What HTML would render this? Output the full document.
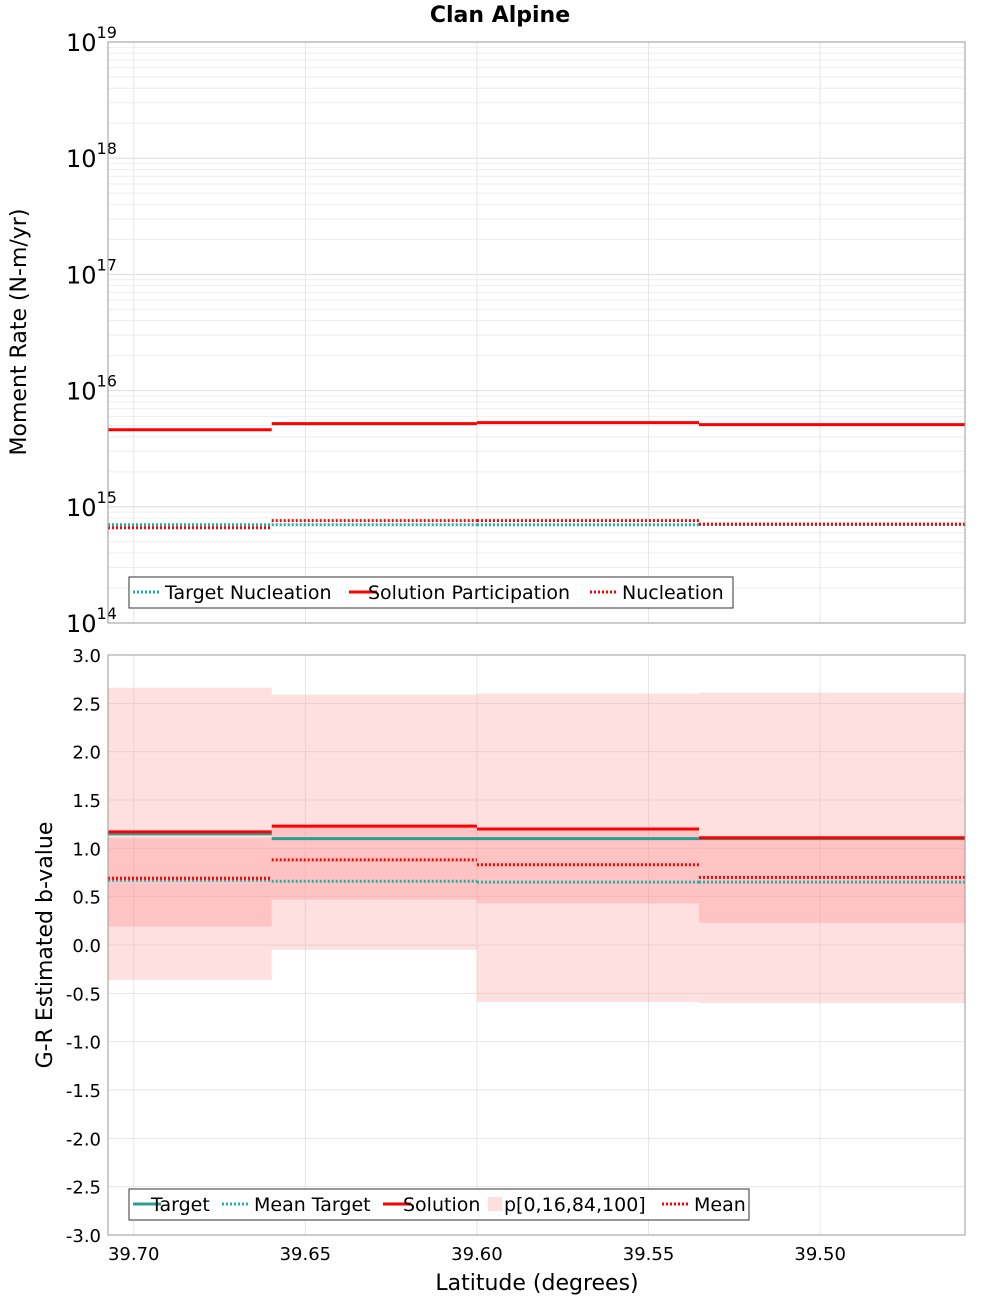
<!DOCTYPE html>
<html><head><meta charset="utf-8"><style>
body{margin:0;background:#fff;font-family:"DejaVu Sans","Liberation Sans",sans-serif}
</style></head><body>
<svg id="c" width="1000" height="1300" xmlns="http://www.w3.org/2000/svg" font-family="DejaVu Sans, Liberation Sans, sans-serif">
<text x="500" y="22" text-anchor="middle" font-size="22" font-weight="bold">Clan Alpine</text>
<g id="topplot"></g><g id="botplot"></g>
</svg>
<script>
const edges=[39.7075,39.6598,39.600,39.5353,39.4578];
const xTicks=[39.70,39.65,39.60,39.55,39.50];
const targetNuc=[7.0e14,7.0e14,7.0e14,7.05e14];
const solPart=[4.6e15,5.2e15,5.3e15,5.1e15];
const nucl=[6.6e14,7.6e14,7.6e14,7.1e14];
const bTarget=[1.15,1.10,1.10,1.10];
const bMeanTarget=[0.67,0.66,0.65,0.65];
const bSolution=[1.17,1.23,1.20,1.11];
const bMean=[0.69,0.88,0.83,0.70];
const p0=[-0.36,-0.05,-0.59,-0.60];
const p16=[0.19,0.47,0.43,0.23];
const p84=[1.11,1.22,1.20,1.10];
const p100=[2.66,2.59,2.60,2.61];
const bTicks=[3.0,2.5,2.0,1.5,1.0,0.5,0.0,-0.5,-1.0,-1.5,-2.0,-2.5,-3.0];
const logTicks=[14,15,16,17,18,19];

const NS="http://www.w3.org/2000/svg";
const L=108,R=965;
const x=v=>L+(edges[0]-v)/(edges[0]-edges[4])*(R-L);
const T0=42,T1=623;
const yl=v=>T1-(Math.log10(v)-14)/5*(T1-T0);
const B0=655,B1=1235;
const yb=v=>B0+(3-v)/6*(B1-B0);
function mk(p,tag,a,name,txt){const e=document.createElementNS(NS,tag);for(const k in a)e.setAttribute(k,a[k]);


if(txt!==undefined)e.textContent=txt;p.appendChild(e);return e;}
const gTop=document.getElementById('topplot'),gBot=document.getElementById('botplot');
for(let d=14;d<19;d++)for(let m=1;m<10;m++){const y=yl(m*Math.pow(10,d));mk(gTop,'line',{x1:L,x2:R,y1:y,y2:y,stroke:m==1?'#ddd':'#eee','stroke-width':1},'grid-line');}
xTicks.forEach(t=>{mk(gTop,'line',{x1:x(t),x2:x(t),y1:T0,y2:T1,stroke:'#e6e6e6'},'grid-line');mk(gBot,'line',{x1:x(t),x2:x(t),y1:B0,y2:B1,stroke:'#e6e6e6'},'grid-line');});
logTicks.forEach(d=>{const y=yl(Math.pow(10,d));const t=mk(gTop,'text',{x:66,y:y+9,'font-size':24},'y-tick-label','10');mk(t,'tspan',{dy:-13,'font-size':16},'y-tick-exp',String(d));});
function step(p,arr,f,col,w,dash,name){arr.forEach((v,i)=>{const a={x1:x(edges[i]),x2:x(edges[i+1]),y1:f(v),y2:f(v),stroke:col,'stroke-width':w};if(dash)a['stroke-dasharray']=dash;mk(p,'line',a,name);});}
step(gTop,targetNuc,yl,'#20b2aa',3,'2 2','target-nucleation-line');
step(gTop,solPart,yl,'#ff0000',3,null,'solution-participation-line');
step(gTop,nucl,yl,'#ff0000',3,'2 2','nucleation-line');
mk(gTop,'rect',{x:L,y:T0,width:R-L,height:T1-T0,fill:'none',stroke:'#999'},'top-plot-frame');
mk(gTop,'text',{x:26,y:332,'font-size':22,'text-anchor':'middle',transform:'rotate(-90 26 332)'},'top-y-axis-title','Moment Rate (N-m/yr)');
const lg=mk(gTop,'g',{},'top-legend');
mk(lg,'rect',{x:129,y:577,width:604,height:31,fill:'#fff',stroke:'#333'},'legend-box');
[[133,'#20b2aa','2 2','Target Nucleation',165],[349,'#ff0000',null,'Solution Participation',368],[590,'#ff0000','2 2','Nucleation',622]].forEach(([lx,c,d,t,tx])=>{const a={x1:lx,x2:lx+28,y1:592,y2:592,stroke:c,'stroke-width':3};if(d)a['stroke-dasharray']=d;mk(lg,'line',a,'legend-swatch');mk(lg,'text',{x:tx,y:599,'font-size':19},'legend-entry',t);});
bTicks.forEach(t=>{mk(gBot,'line',{x1:L,x2:R,y1:yb(t),y2:yb(t),stroke:'#e6e6e6'},'grid-line');mk(gBot,'text',{x:101,y:yb(t)+7,'font-size':18,'text-anchor':'end'},'y-tick-label',t.toFixed(1));});
p0.forEach((v,i)=>{mk(gBot,'rect',{x:x(edges[i]),y:yb(p100[i]),width:x(edges[i+1])-x(edges[i]),height:yb(v)-yb(p100[i]),fill:'rgba(255,160,160,0.32)'},'band-outer');
mk(gBot,'rect',{x:x(edges[i]),y:yb(p84[i]),width:x(edges[i+1])-x(edges[i]),height:yb(p16[i])-yb(p84[i]),fill:'rgba(255,140,140,0.35)'},'band-inner');});
step(gBot,bTarget,yb,'#2a9d94',3,null,'target-line');
step(gBot,bMeanTarget,yb,'#20b2aa',3,'2 2','mean-target-line');
step(gBot,bSolution,yb,'#ff0000',3,null,'solution-line');
step(gBot,bMean,yb,'#ff0000',3,'2 2','mean-line');
mk(gBot,'rect',{x:L,y:B0,width:R-L,height:B1-B0,fill:'none',stroke:'#999'},'bottom-plot-frame');
xTicks.forEach(t=>mk(gBot,'text',{x:x(t),y:1260,'font-size':18,'text-anchor':'middle'},'x-tick-label',t.toFixed(2)));
mk(gBot,'text',{x:537,y:1290,'font-size':22,'text-anchor':'middle'},'x-axis-title','Latitude (degrees)');
mk(gBot,'text',{x:52,y:945,'font-size':22,'text-anchor':'middle',transform:'rotate(-90 52 945)'},'bottom-y-axis-title','G-R Estimated b-value');
const lb=mk(gBot,'g',{},'bottom-legend');
mk(lb,'rect',{x:129,y:1189,width:620,height:31,fill:'#fff',stroke:'#333'},'legend-box');
[[133,'#2a9d94',null,'Target',151],[222,'#20b2aa','2 2','Mean Target',254],[383,'#ff0000',null,'Solution',403]].forEach(([lx,c,d,t,tx])=>{const a={x1:lx,x2:lx+28,y1:1204,y2:1204,stroke:c,'stroke-width':3};if(d)a['stroke-dasharray']=d;mk(lb,'line',a,'legend-swatch');mk(lb,'text',{x:tx,y:1211,'font-size':19},'legend-entry',t);});
mk(lb,'rect',{x:488,y:1197,width:14,height:14,fill:'rgba(255,160,160,0.35)'},'legend-swatch');
mk(lb,'text',{x:504,y:1211,'font-size':19},'legend-entry','p[0,16,84,100]');
mk(lb,'line',{x1:662,x2:690,y1:1204,y2:1204,stroke:'#ff0000','stroke-width':3,'stroke-dasharray':'2 2'},'legend-swatch');
mk(lb,'text',{x:694,y:1211,'font-size':19},'legend-entry','Mean');
</script>
</body></html>
